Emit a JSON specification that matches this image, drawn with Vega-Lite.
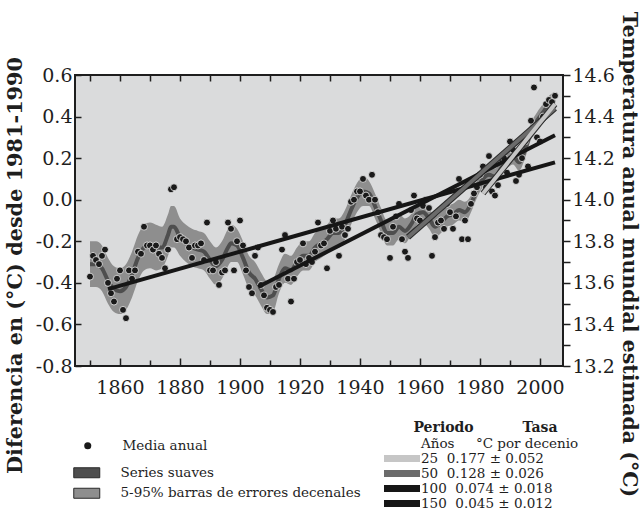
{
  "$schema": "https://vega.github.io/schema/vega-lite/v6.json",
  "width": 488,
  "height": 291,
  "autosize": {"type": "none"},
  "padding": {"left": 75, "top": 75, "right": 79, "bottom": 144},
  "background": "white",
  "config": {
    "view": {"fill": "#dadbdc", "stroke": "#1e1e1e", "strokeWidth": 2},
    "font": "DejaVu Serif",
    "axis": {
      "labelFont": "DejaVu Serif", "labelFontSize": 19, "labelColor": "#1e1e1e",
      "tickColor": "#1e1e1e", "tickWidth": 1.5, "domain": false, "grid": false,
      "titleFont": "DejaVu Serif", "titleFontWeight": "bold", "titleColor": "#1e1e1e"
    },
    "legend": {
      "labelFont": "DejaVu Serif", "labelFontSize": 13.5, "labelColor": "#1e1e1e", "labelLimit": 400,
      "titleFont": "DejaVu Serif", "titleFontSize": 14, "titleFontWeight": "bold", "titleColor": "#1e1e1e",
      "padding": 0, "titleLimit": 400
    }
  },
  "datasets": {
    "annual": [
      {"year":1850,"value":-0.37},{"year":1851,"value":-0.27},{"year":1852,"value":-0.29},{"year":1853,"value":-0.31},{"year":1854,"value":-0.27},
      {"year":1855,"value":-0.24},{"year":1856,"value":-0.40},{"year":1857,"value":-0.45},{"year":1858,"value":-0.49},{"year":1859,"value":-0.38},
      {"year":1860,"value":-0.34},{"year":1861,"value":-0.53},{"year":1862,"value":-0.57},{"year":1863,"value":-0.34},{"year":1864,"value":-0.38},
      {"year":1865,"value":-0.34},{"year":1866,"value":-0.25},{"year":1867,"value":-0.26},{"year":1868,"value":-0.13},{"year":1869,"value":-0.22},
      {"year":1870,"value":-0.22},{"year":1871,"value":-0.24},{"year":1872,"value":-0.22},{"year":1873,"value":-0.26},{"year":1874,"value":-0.28},
      {"year":1875,"value":-0.33},{"year":1876,"value":-0.24},{"year":1877,"value":0.05},{"year":1878,"value":0.06},{"year":1879,"value":-0.19},
      {"year":1880,"value":-0.18},{"year":1881,"value":-0.19},{"year":1882,"value":-0.20},{"year":1883,"value":-0.23},{"year":1884,"value":-0.28},
      {"year":1885,"value":-0.22},{"year":1886,"value":-0.22},{"year":1887,"value":-0.21},{"year":1888,"value":-0.29},{"year":1889,"value":-0.11},
      {"year":1890,"value":-0.34},{"year":1891,"value":-0.34},{"year":1892,"value":-0.30},{"year":1893,"value":-0.41},{"year":1894,"value":-0.35},
      {"year":1895,"value":-0.34},{"year":1896,"value":-0.11},{"year":1897,"value":-0.14},{"year":1898,"value":-0.34},{"year":1899,"value":-0.20},
      {"year":1900,"value":-0.10},{"year":1901,"value":-0.22},{"year":1902,"value":-0.34},{"year":1903,"value":-0.42},{"year":1904,"value":-0.45},
      {"year":1905,"value":-0.27},{"year":1906,"value":-0.23},{"year":1907,"value":-0.41},{"year":1908,"value":-0.46},{"year":1909,"value":-0.52},
      {"year":1910,"value":-0.53},{"year":1911,"value":-0.54},{"year":1912,"value":-0.42},{"year":1913,"value":-0.41},{"year":1914,"value":-0.24},
      {"year":1915,"value":-0.17},{"year":1916,"value":-0.38},{"year":1917,"value":-0.49},{"year":1918,"value":-0.38},{"year":1919,"value":-0.30},
      {"year":1920,"value":-0.29},{"year":1921,"value":-0.21},{"year":1922,"value":-0.31},{"year":1923,"value":-0.28},{"year":1924,"value":-0.30},
      {"year":1925,"value":-0.25},{"year":1926,"value":-0.11},{"year":1927,"value":-0.22},{"year":1928,"value":-0.21},{"year":1929,"value":-0.33},
      {"year":1930,"value":-0.15},{"year":1931,"value":-0.10},{"year":1932,"value":-0.14},{"year":1933,"value":-0.27},{"year":1934,"value":-0.13},
      {"year":1935,"value":-0.17},{"year":1936,"value":-0.14},{"year":1937,"value":-0.01},{"year":1938,"value":0.00},{"year":1939,"value":0.04},
      {"year":1940,"value":0.04},{"year":1941,"value":0.10},{"year":1942,"value":0.02},{"year":1943,"value":0.00},{"year":1944,"value":0.12},
      {"year":1945,"value":0.00},{"year":1946,"value":-0.06},{"year":1947,"value":-0.17},{"year":1948,"value":-0.18},{"year":1949,"value":-0.19},
      {"year":1950,"value":-0.28},{"year":1951,"value":-0.13},{"year":1952,"value":-0.08},{"year":1953,"value":-0.02},{"year":1954,"value":-0.19},
      {"year":1955,"value":-0.25},{"year":1956,"value":-0.28},{"year":1957,"value":-0.05},{"year":1958,"value":0.02},{"year":1959,"value":-0.09},
      {"year":1960,"value":-0.10},{"year":1961,"value":-0.03},{"year":1962,"value":0.00},{"year":1963,"value":-0.04},{"year":1964,"value":-0.27},
      {"year":1965,"value":-0.18},{"year":1966,"value":-0.11},{"year":1967,"value":-0.10},{"year":1968,"value":-0.14},{"year":1969,"value":-0.02},
      {"year":1970,"value":-0.06},{"year":1971,"value":-0.14},{"year":1972,"value":-0.08},{"year":1973,"value":0.10},{"year":1974,"value":-0.19},
      {"year":1975,"value":-0.10},{"year":1976,"value":-0.19},{"year":1977,"value":-0.02},{"year":1978,"value":0.03},{"year":1979,"value":0.06},
      {"year":1980,"value":0.12},{"year":1981,"value":0.16},{"year":1982,"value":0.06},{"year":1983,"value":0.21},{"year":1984,"value":0.04},
      {"year":1985,"value":0.02},{"year":1986,"value":0.07},{"year":1987,"value":0.20},{"year":1988,"value":0.20},{"year":1989,"value":0.13},
      {"year":1990,"value":0.28},{"year":1991,"value":0.24},{"year":1992,"value":0.09},{"year":1993,"value":0.12},{"year":1994,"value":0.20},
      {"year":1995,"value":0.28},{"year":1996,"value":0.16},{"year":1997,"value":0.38},{"year":1998,"value":0.54},{"year":1999,"value":0.30},
      {"year":2000,"value":0.28},{"year":2001,"value":0.40},{"year":2002,"value":0.46},{"year":2003,"value":0.48},{"year":2004,"value":0.47},
      {"year":2005,"value":0.50}
    ],
    "smooth": [
      {"year":1850,"smooth":-0.31,"lo":-0.42,"hi":-0.20},{"year":1852,"smooth":-0.31,"lo":-0.42,"hi":-0.20},{"year":1854,"smooth":-0.33,"lo":-0.44,"hi":-0.22},
      {"year":1856,"smooth":-0.39,"lo":-0.50,"hi":-0.28},{"year":1858,"smooth":-0.43,"lo":-0.54,"hi":-0.32},{"year":1860,"smooth":-0.44,"lo":-0.55,"hi":-0.33},
      {"year":1862,"smooth":-0.42,"lo":-0.53,"hi":-0.31},{"year":1864,"smooth":-0.36,"lo":-0.47,"hi":-0.25},{"year":1866,"smooth":-0.28,"lo":-0.39,"hi":-0.17},
      {"year":1868,"smooth":-0.23,"lo":-0.34,"hi":-0.12},{"year":1870,"smooth":-0.22,"lo":-0.33,"hi":-0.11},{"year":1872,"smooth":-0.23,"lo":-0.34,"hi":-0.12},
      {"year":1874,"smooth":-0.23,"lo":-0.33,"hi":-0.13},{"year":1876,"smooth":-0.17,"lo":-0.27,"hi":-0.07},{"year":1877,"smooth":-0.13,"lo":-0.23,"hi":-0.03},
      {"year":1878,"smooth":-0.13,"lo":-0.23,"hi":-0.03},{"year":1880,"smooth":-0.18,"lo":-0.27,"hi":-0.09},{"year":1882,"smooth":-0.21,"lo":-0.30,"hi":-0.12},
      {"year":1884,"smooth":-0.23,"lo":-0.32,"hi":-0.14},{"year":1886,"smooth":-0.24,"lo":-0.33,"hi":-0.15},{"year":1888,"smooth":-0.25,"lo":-0.34,"hi":-0.16},
      {"year":1890,"smooth":-0.29,"lo":-0.38,"hi":-0.20},{"year":1892,"smooth":-0.32,"lo":-0.41,"hi":-0.23},{"year":1894,"smooth":-0.29,"lo":-0.38,"hi":-0.20},
      {"year":1896,"smooth":-0.23,"lo":-0.32,"hi":-0.14},{"year":1897,"smooth":-0.21,"lo":-0.30,"hi":-0.12},{"year":1899,"smooth":-0.22,"lo":-0.30,"hi":-0.14},
      {"year":1901,"smooth":-0.28,"lo":-0.36,"hi":-0.20},{"year":1903,"smooth":-0.35,"lo":-0.43,"hi":-0.27},{"year":1905,"smooth":-0.38,"lo":-0.46,"hi":-0.30},
      {"year":1907,"smooth":-0.43,"lo":-0.51,"hi":-0.35},{"year":1909,"smooth":-0.47,"lo":-0.55,"hi":-0.39},{"year":1911,"smooth":-0.46,"lo":-0.54,"hi":-0.38},
      {"year":1913,"smooth":-0.38,"lo":-0.45,"hi":-0.31},{"year":1915,"smooth":-0.33,"lo":-0.40,"hi":-0.26},{"year":1917,"smooth":-0.34,"lo":-0.41,"hi":-0.27},
      {"year":1919,"smooth":-0.30,"lo":-0.37,"hi":-0.23},{"year":1921,"smooth":-0.27,"lo":-0.34,"hi":-0.20},{"year":1923,"smooth":-0.27,"lo":-0.34,"hi":-0.20},
      {"year":1925,"smooth":-0.23,"lo":-0.30,"hi":-0.16},{"year":1927,"smooth":-0.21,"lo":-0.28,"hi":-0.14},{"year":1929,"smooth":-0.19,"lo":-0.26,"hi":-0.12},
      {"year":1931,"smooth":-0.16,"lo":-0.23,"hi":-0.09},{"year":1933,"smooth":-0.16,"lo":-0.23,"hi":-0.09},{"year":1935,"smooth":-0.12,"lo":-0.19,"hi":-0.05},
      {"year":1937,"smooth":-0.05,"lo":-0.12,"hi":0.02},{"year":1939,"smooth":0.01,"lo":-0.06,"hi":0.08},{"year":1941,"smooth":0.04,"lo":-0.03,"hi":0.11},
      {"year":1943,"smooth":0.03,"lo":-0.03,"hi":0.09},{"year":1945,"smooth":-0.03,"lo":-0.09,"hi":0.03},{"year":1947,"smooth":-0.10,"lo":-0.16,"hi":-0.04},
      {"year":1949,"smooth":-0.16,"lo":-0.22,"hi":-0.10},{"year":1951,"smooth":-0.16,"lo":-0.22,"hi":-0.10},{"year":1953,"smooth":-0.13,"lo":-0.19,"hi":-0.07},
      {"year":1955,"smooth":-0.15,"lo":-0.21,"hi":-0.09},{"year":1957,"smooth":-0.12,"lo":-0.17,"hi":-0.07},{"year":1959,"smooth":-0.07,"lo":-0.12,"hi":-0.02},
      {"year":1961,"smooth":-0.06,"lo":-0.11,"hi":-0.01},{"year":1963,"smooth":-0.09,"lo":-0.14,"hi":-0.04},{"year":1965,"smooth":-0.13,"lo":-0.18,"hi":-0.08},
      {"year":1967,"smooth":-0.11,"lo":-0.16,"hi":-0.06},{"year":1969,"smooth":-0.08,"lo":-0.13,"hi":-0.03},{"year":1971,"smooth":-0.07,"lo":-0.12,"hi":-0.02},
      {"year":1973,"smooth":-0.05,"lo":-0.10,"hi":0.00},{"year":1975,"smooth":-0.06,"lo":-0.11,"hi":-0.01},{"year":1977,"smooth":-0.02,"lo":-0.06,"hi":0.02},
      {"year":1979,"smooth":0.05,"lo":0.01,"hi":0.09},{"year":1981,"smooth":0.10,"lo":0.06,"hi":0.14},{"year":1983,"smooth":0.12,"lo":0.08,"hi":0.16},
      {"year":1985,"smooth":0.11,"lo":0.07,"hi":0.15},{"year":1987,"smooth":0.15,"lo":0.11,"hi":0.19},{"year":1989,"smooth":0.19,"lo":0.15,"hi":0.23},
      {"year":1991,"smooth":0.21,"lo":0.17,"hi":0.25},{"year":1993,"smooth":0.18,"lo":0.14,"hi":0.22},{"year":1995,"smooth":0.24,"lo":0.20,"hi":0.28},
      {"year":1997,"smooth":0.33,"lo":0.29,"hi":0.37},{"year":1999,"smooth":0.38,"lo":0.34,"hi":0.42},{"year":2001,"smooth":0.42,"lo":0.38,"hi":0.46},
      {"year":2003,"smooth":0.46,"lo":0.42,"hi":0.50},{"year":2005,"smooth":0.48,"lo":0.44,"hi":0.52}
    ],
    "trend": [
      {"periodo":"150","year":1856,"value":-0.43},{"periodo":"150","year":2005,"value":0.18},
      {"periodo":"100","year":1906,"value":-0.42},{"periodo":"100","year":2005,"value":0.31},
      {"periodo":"50","year":1956,"value":-0.18},{"periodo":"50","year":2005,"value":0.44},
      {"periodo":"25","year":1981,"value":0.03},{"periodo":"25","year":2005,"value":0.46}
    ]
  },
  "layer": [
    {
      "layer": [
        {
          "data": {"name": "smooth"},
          "mark": {"type": "area", "interpolate": "monotone"},
          "encoding": {
            "x": {"field": "year", "type": "quantitative", "title": null,
              "scale": {"domain": [1845, 2007.67], "nice": false, "zero": false},
              "axis": {"orient": "bottom", "labels": false, "values": [1850,1860,1870,1880,1890,1900,1910,1920,1930,1940,1950,1960,1970,1980,1990,2000],
                "tickSize": -6}},
            "y": {"field": "lo", "type": "quantitative", "title": "Diferencia en (°C) desde 1981-1990",
              "scale": {"domain": [-0.8, 0.6], "nice": false, "zero": false},
              "axis": {"orient": "left", "values": [-0.8,-0.7,-0.6,-0.5,-0.4,-0.3,-0.2,-0.1,0,0.1,0.2,0.3,0.4,0.5,0.6],
                "labelExpr": "abs(round(datum.value*10)) % 2 == 0 ? replace(format(datum.value, '.1f'), '−', '-') : ''",
                "tickSize": -6, "labelPadding": 9, "labelFlush": false, "labelOverlap": false,
                "titleFontSize": 20.8,
                "titleX": -60, "titleY": 190, "titleAngle": 270, "titleAlign": "center", "titleBaseline": "middle"}},
            "y2": {"field": "hi"},
            "fill": {"datum": "5-95% barras de errores decenales", "type": "nominal",
              "scale": {"domain": ["Series suaves", "5-95% barras de errores decenales"], "range": ["#4e4e4e", "#8e8e8e"]},
              "legend": {"orient": "none", "legendX": 5, "legendY": 391, "title": null, "labelOffset": 27, "rowPadding": 5.5,
                "symbolSize": 100, "symbolType": "M-2.6,-1H2.6V1H-2.6Z", "symbolStrokeColor": "#2a2a2a", "symbolStrokeWidth": 1}}
          }
        },
        {
          "data": {"name": "smooth"},
          "mark": {"type": "line", "interpolate": "monotone", "color": "#4e4e4e", "strokeWidth": 4},
          "encoding": {
            "x": {"field": "year", "type": "quantitative", "title": null},
            "y": {"field": "smooth", "type": "quantitative", "title": "Diferencia en (°C) desde 1981-1990"}
          }
        },
        {
          "data": {"name": "annual"},
          "mark": {"type": "point", "filled": true, "size": 48, "opacity": 1, "stroke": "#eeeeee", "strokeWidth": 0.8},
          "encoding": {
            "x": {"field": "year", "type": "quantitative", "title": null},
            "y": {"field": "value", "type": "quantitative", "title": "Diferencia en (°C) desde 1981-1990"},
            "color": {"datum": "Media anual", "type": "nominal",
              "scale": {"domain": ["Media anual"], "range": ["#1a1a1a"]},
              "legend": {"orient": "none", "legendX": 6, "legendY": 364, "title": null, "labelOffset": 28,
                "symbolSize": 50, "symbolType": "circle", "symbolStrokeWidth": 0}
            }
          }
        },
        {
          "data": {"name": "trend"},
          "transform": [{"filter": "datum.periodo == '25' || datum.periodo == '50'"}],
          "mark": {"type": "line", "color": "#2a2a2a", "strokeWidth": 6},
          "encoding": {
            "x": {"field": "year", "type": "quantitative", "title": null},
            "y": {"field": "value", "type": "quantitative", "title": "Diferencia en (°C) desde 1981-1990"},
            "detail": {"field": "periodo"}
          }
        },
        {
          "data": {"name": "trend"},
          "mark": {"type": "line", "strokeWidth": 4},
          "encoding": {
            "x": {"field": "year", "type": "quantitative", "title": null},
            "y": {"field": "value", "type": "quantitative", "title": "Diferencia en (°C) desde 1981-1990"},
            "stroke": {"field": "periodo", "type": "nominal",
              "scale": {"domain": ["h", "25", "50", "100", "150"], "range": ["rgba(0,0,0,0)", "#c6c6c6", "#6b6b6b", "#161616", "#161616"]},
              "legend": {"orient": "none", "legendX": 318.5, "legendY": 346,
                "title": "Periodo\u00a0\u00a0\u00a0\u00a0\u00a0\u00a0\u00a0\u00a0\u00a0\u00a0Tasa\u00a0\u00a0\u00a0",
                "titleAnchor": "middle",
                "labelOffset": 10.5, "rowPadding": -1, "titlePadding": 0,
                "symbolSize": 100, "symbolType": "M-3.6,0H3.6", "symbolStrokeWidth": 7,
                "encode": {"symbols": {"update": {"strokeJoin": {"value": "bevel"}, "strokeCap": {"value": "butt"}}}},
                "labelExpr": "datum.value == 'h' ? 'Años\u00a0\u00a0\u00a0\u00a0\u00a0°C por decenio' : datum.value == '25' ? '\u200725\u00a0\u00a00.177 ± 0.052' : datum.value == '50' ? '\u200750\u00a0\u00a00.128 ± 0.026' : datum.value == '100' ? '100\u00a0\u00a00.074 ± 0.018' : '150\u00a0\u00a00.045 ± 0.012'"}
            }
          }
        }
      ]
    },
    {
      "data": {"values": [{}]},
      "mark": {"type": "point", "opacity": 0},
      "encoding": {
        "x": {"datum": 1900, "type": "quantitative",
          "scale": {"domain": [1845, 2007.67], "nice": false, "zero": false},
          "axis": {"orient": "top", "labels": false, "title": null, "tickSize": -6,
            "values": [1850,1860,1870,1880,1890,1900,1910,1920,1930,1940,1950,1960,1970,1980,1990,2000]}},
        "y": {"datum": 14, "type": "quantitative",
          "scale": {"domain": [13.2, 14.6], "nice": false, "zero": false},
          "axis": {"orient": "right", "title": "Temperatura anual mundial estimada (°C)",
            "values": [13.2,13.3,13.4,13.5,13.6,13.7,13.8,13.9,14.0,14.1,14.2,14.3,14.4,14.5,14.6],
            "labelExpr": "abs(round(datum.value*10)) % 2 == 0 ? format(datum.value, '.1f') : ''",
            "tickSize": 7, "labelPadding": 2, "labelFlush": false, "labelOverlap": false,
            "titleFontSize": 20.5,
            "titleX": 65, "titleY": 179, "titleAngle": 90, "titleAlign": "center", "titleBaseline": "middle"}}
      }
    },
    {
      "data": {"values": [{}]},
      "mark": {"type": "point", "opacity": 0},
      "encoding": {
        "x": {"datum": 1900, "type": "quantitative",
          "scale": {"domain": [1845, 2007.67], "nice": false, "zero": false},
          "axis": {"orient": "bottom", "title": null, "format": "d", "tickSize": -8, "labelPadding": 20,
            "labelFlush": false, "labelOverlap": false,
            "values": [1860,1880,1900,1920,1940,1960,1980,2000]}}
      }
    }
  ],
  "resolve": {"scale": {"x": "independent", "y": "independent"}}
}
